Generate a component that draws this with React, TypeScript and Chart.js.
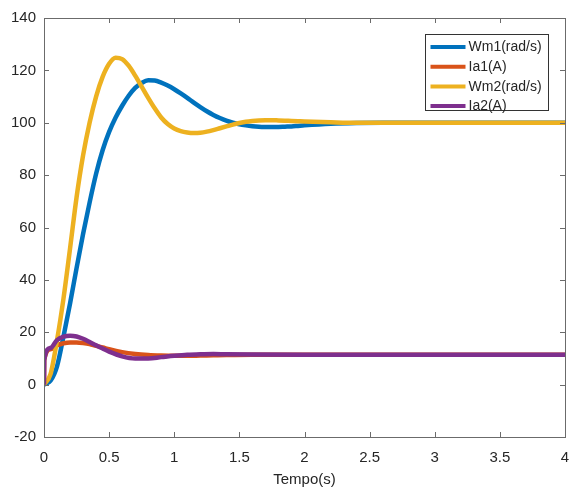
import React, { useEffect, useRef } from "react";
import { Chart, registerables } from "chart.js";

Chart.register(...registerables);

// ---- Data ----
const speedTime = [0, 0.05, 0.1, 0.15, 0.2, 0.25, 0.3, 0.35, 0.4, 0.45, 0.5, 0.55, 0.6, 0.65, 0.7, 0.75, 0.8, 0.85, 0.9, 0.95, 1.0, 1.05, 1.1, 1.15, 1.2, 1.25, 1.3, 1.35, 1.4, 1.45, 1.5, 1.55, 1.6, 1.65, 1.7, 1.75, 1.8, 1.85, 1.9, 1.95, 2.0, 2.2, 2.4, 2.6, 2.8, 3.0, 3.5, 4.0];
const wm1 = [0, 1.5, 7, 18.5, 31, 44.5, 57.5, 69.5, 80.5, 89.5, 96.5, 102, 106.5, 110.3, 113.3, 115.2, 116.2, 116.1, 115.3, 114.2, 112.8, 111.2, 109.5, 107.7, 106, 104.4, 103, 101.8, 100.8, 100, 99.4, 99, 98.7, 98.5, 98.4, 98.35, 98.4, 98.5, 98.6, 98.8, 99, 99.6, 99.9, 100, 100, 100, 100, 100];
const wm2 = [0, 4, 17, 33, 52, 71.5, 87.5, 100, 110, 117.5, 122.5, 124.8, 124.3, 121.8, 118, 113.8, 109.5, 105.5, 102, 99.5, 97.8, 96.8, 96.3, 96.1, 96.2, 96.6, 97.2, 97.9, 98.6, 99.3, 99.9, 100.4, 100.7, 100.9, 101, 101, 100.9, 100.8, 100.7, 100.6, 100.5, 100.2, 100, 100, 100, 100, 100, 100];

const currentTime = [0, 0.002, 0.05, 0.1, 0.15, 0.2, 0.25, 0.3, 0.35, 0.4, 0.45, 0.5, 0.6, 0.7, 0.8, 0.9, 1.0, 1.1, 1.2, 1.3, 1.4, 1.6, 2.0, 2.5, 3.0, 3.5, 4.0];
const ia1 = [0, 9.5, 13.5, 15, 15.8, 16.1, 16.1, 15.9, 15.5, 14.8, 14.2, 13.5, 12.4, 11.7, 11.3, 11.1, 11.0, 11.0, 11.1, 11.2, 11.3, 11.4, 11.4, 11.4, 11.4, 11.4, 11.4];
const ia2 = [0, 9.5, 14, 17, 18.3, 18.7, 18.4, 17.5, 16.3, 15, 13.8, 12.6, 10.8, 10.0, 10.0, 10.5, 11.0, 11.4, 11.6, 11.7, 11.6, 11.5, 11.4, 11.4, 11.4, 11.4, 11.4];

const xTicks = [0, 0.5, 1, 1.5, 2, 2.5, 3, 3.5, 4];
const yTicks = [-20, 0, 20, 40, 60, 80, 100, 120, 140];
const seriesLabels = ["Wm1(rad/s)", "Ia1(A)", "Wm2(rad/s)", "Ia2(A)"];
const xTitle = "Tempo(s)";

// ---- Styles ----
const seriesColors = ["#0072BD", "#D95319", "#EDB120", "#7E2F8E"];
const FONT = "'Liberation Sans', Arial, Helvetica, sans-serif";
const TEXT = "#262626";
const AXIS = "#6b6b6b";

const toPoints = (xs: number[], ys: number[]) => xs.map((x, i) => ({ x, y: ys[i] }));

const matlabAxes = {
  id: "matlabAxes",
  afterDraw(chart: any) {
    const { ctx, chartArea } = chart;
    const { left, right, top, bottom } = chartArea;
    const xs = chart.scales.x;
    const ys = chart.scales.y;
    ctx.save();
    // box
    ctx.strokeStyle = AXIS;
    ctx.lineWidth = 1;
    ctx.strokeRect(Math.round(left) + 0.5, Math.round(top) + 0.5, Math.round(right - left), Math.round(bottom - top));
    // inward ticks
    const tl = 5;
    ctx.beginPath();
    xTicks.forEach((v) => {
      const px = Math.round(xs.getPixelForValue(v)) + 0.5;
      ctx.moveTo(px, bottom);
      ctx.lineTo(px, bottom - tl);
      ctx.moveTo(px, top);
      ctx.lineTo(px, top + tl);
    });
    yTicks.forEach((v) => {
      const py = Math.round(ys.getPixelForValue(v)) + 0.5;
      ctx.moveTo(left, py);
      ctx.lineTo(left + tl, py);
      ctx.moveTo(right, py);
      ctx.lineTo(right - tl, py);
    });
    ctx.stroke();

    // x title
    ctx.fillStyle = TEXT;
    ctx.font = `15px ${FONT}`;
    ctx.textAlign = "center";
    ctx.textBaseline = "middle";
    ctx.fillText(xTitle, (left + right) / 2, bottom + 43);

    // legend
    const boxW = 123;
    const boxH = 76;
    const bx = Math.round(right - 17 - boxW) + 0.5;
    const by = Math.round(top + 16) + 0.5;
    ctx.fillStyle = "#ffffff";
    ctx.fillRect(bx, by, boxW, boxH);
    ctx.strokeStyle = "#333333";
    ctx.lineWidth = 1;
    ctx.strokeRect(bx, by, boxW, boxH);
    ctx.font = `14px ${FONT}`;
    ctx.textAlign = "left";
    ctx.textBaseline = "middle";
    seriesLabels.forEach((lab, i) => {
      const cy = by + 12.5 + i * 19.7;
      ctx.strokeStyle = seriesColors[i];
      ctx.lineWidth = 4;
      ctx.beginPath();
      ctx.moveTo(bx + 5, cy);
      ctx.lineTo(bx + 40, cy);
      ctx.stroke();
      ctx.fillStyle = TEXT;
      ctx.fillText(lab, bx + 43, cy + 0.5);
    });
    ctx.restore();
  },
};

export default function App() {
  const canvasRef = useRef<HTMLCanvasElement | null>(null);

  useEffect(() => {
    if (!canvasRef.current) return;
    const seriesData = [
      toPoints(speedTime, wm1),
      toPoints(currentTime, ia1),
      toPoints(speedTime, wm2),
      toPoints(currentTime, ia2),
    ];
    const chart = new Chart(canvasRef.current, {
      type: "line",
      data: {
        datasets: seriesData.map((d, i) => ({
          label: seriesLabels[i],
          data: d,
          borderColor: seriesColors[i],
          backgroundColor: seriesColors[i],
          borderWidth: 4.5,
          pointRadius: 0,
          fill: false,
          cubicInterpolationMode: "monotone" as const,
          order: 4 - i,
        })),
      },
      options: {
        animation: false,
        responsive: true,
        maintainAspectRatio: false,
        layout: { padding: { top: 18, right: 5, left: 0, bottom: 0 } },
        plugins: {
          legend: { display: false },
          tooltip: { enabled: false },
        },
        scales: {
          x: {
            type: "linear",
            min: 0,
            max: 4,
            afterFit: (s: any) => {
              s.height = 52;
              s.paddingLeft = 0;
              s.paddingRight = 0;
            },
            afterBuildTicks: (s: any) => {
              s.ticks = xTicks.map((v) => ({ value: v }));
            },
            ticks: {
              color: TEXT,
              font: { family: FONT, size: 15 },
              padding: 12,
              maxRotation: 0,
              autoSkip: false,
              callback: (v: any) => String(v),
            },
            grid: { display: false, drawTicks: false },
            border: { display: false },
          },
          y: {
            type: "linear",
            min: -20,
            max: 140,
            afterFit: (s: any) => {
              s.width = 44;
              s.paddingTop = 0;
              s.paddingBottom = 0;
            },
            afterBuildTicks: (s: any) => {
              s.ticks = yTicks.map((v) => ({ value: v }));
            },
            ticks: {
              color: TEXT,
              font: { family: FONT, size: 15 },
              padding: 8,
              autoSkip: false,
              callback: (v: any) => String(v),
            },
            grid: { display: false, drawTicks: false },
            border: { display: false },
          },
        },
      },
      plugins: [matlabAxes],
    });
    return () => chart.destroy();
  }, []);

  return (
    <div style={{ position: "absolute", left: 0, top: 0, width: 570, height: 489, background: "#fff" }}>
      <canvas ref={canvasRef} />
    </div>
  );
}
